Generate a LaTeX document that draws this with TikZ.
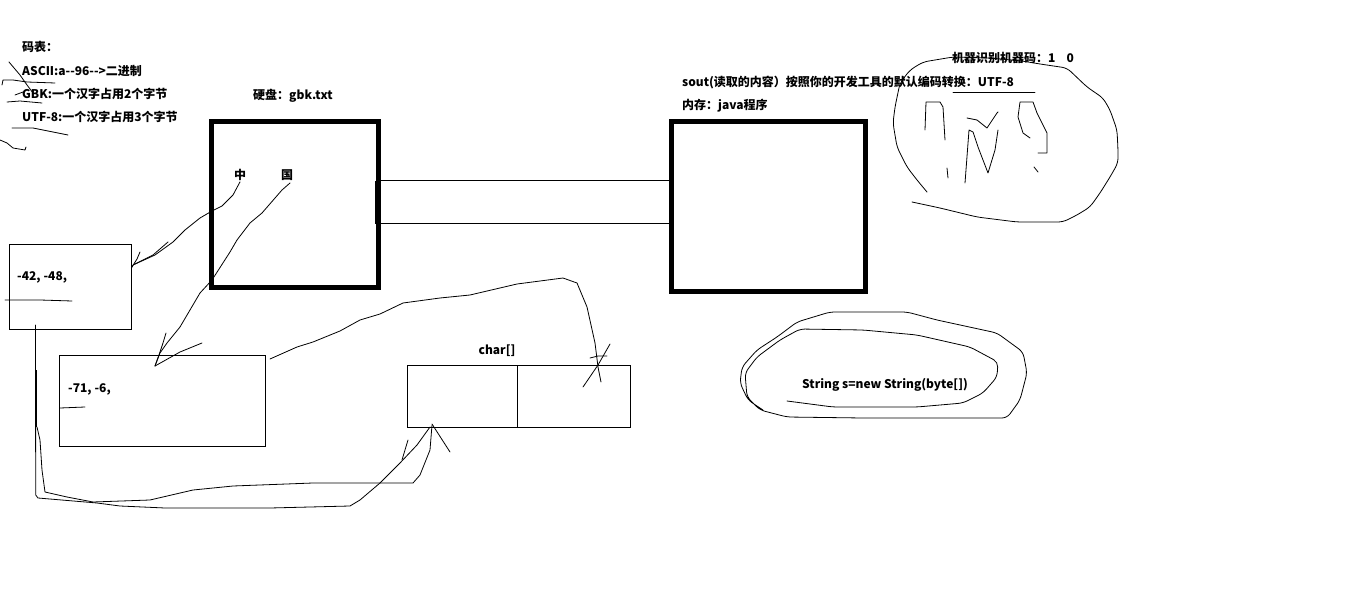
\documentclass[tikz,border=0pt]{standalone}
\usepackage{fontspec}
\setmainfont{Noto Sans CJK SC}
\begin{document}
\begin{tikzpicture}[x=1pt,y=-1pt,
  lbl/.style={font=\fontsize{12}{14}\selectfont\bfseries, inner sep=0pt, anchor=west},
  clbl/.style={font=\fontsize{12}{14}\selectfont\bfseries, inner sep=0pt},
  thickbox/.style={draw, line width=5pt, inner sep=0pt},
  thinbox/.style={draw, line width=1pt, inner sep=0pt},
  hand/.style={line width=0.8pt, line join=round, line cap=round},
  loop/.style={hand, rounded corners=5pt}]
\useasboundingbox[fill=white] (0,0) rectangle (1360,604);

% ---- legend text
\node[lbl] (t1) at (22,47) {码表：};
\node[lbl] (t2) at (22,71) {ASCII:a-{}-96-{}->二进制};
\node[lbl] (t3) at (22,94) {GBK:一个汉字占用2个字节};
\node[lbl] (t4) at (22,117) {UTF-8:一个汉字占用3个字节};

% ---- legend scribbles
\draw[hand] (9,62) -- (20,75) -- (27,85) -- (33,93);
\draw[hand] (2,85) -- (3,80) -- (13,80) -- (27,82) -- (55,83);
\draw[hand] (15,95) -- (23,92);
\draw[hand] (7,102) -- (20,101) -- (42,103);
\draw[hand] (12,128) -- (33,128) -- (68,135);
\draw[hand] (0,140) -- (7,143) -- (13,148) -- (25,150) -- (26,147);

% ---- disk
\node[clbl] (disklbl) at (293,96) {硬盘：gbk.txt};
\node[thickbox, minimum width=167pt, minimum height=166pt] (disk) at (294.5,204.5) {};
\node[clbl] (zhong) at (240,175) {中};
\node[clbl] (guo) at (287,175) {国};
\fill (375,181) rectangle (380,224);

% ---- memory
\node[lbl] (sout) at (682,83) {sout(读取的内容）按照你的开发工具的默认编码转换：UTF-8};
\node[lbl] (neicun) at (682,106) {内存：java程序};
\node[thickbox, minimum width=194pt, minimum height=169pt] (mem) at (768,206.5) {};
\coordinate (p1) at (380,181);
\coordinate (p2) at (380,224);
\draw[line width=1pt] (p1) -- (p1 -| mem.west);
\draw[line width=1pt] (p2) -- (p2 -| mem.west);
\draw[hand] (953,92) -- (1035,92);

% ---- machine code circle
\node[lbl] (jiqi) at (952,58) {机器识别机器码：1\hspace{11pt}0};
\draw[loop] (927,192) -- (917,180) -- (907,167) -- (897,147) -- (893,123) -- (895,107)
  -- (900,83) -- (910,70) -- (923,62) -- (953,57) -- (990,58) -- (1022,61) -- (1040,64)
  -- (1067,68) -- (1087,87) -- (1103,98) -- (1110,110) -- (1117,130) -- (1118,150)
  -- (1118,163) -- (1110,177) -- (1100,193) -- (1090,207) -- (1077,215) -- (1063,222)
  -- (1017,222) -- (977,217) -- (940,208) -- (912,202);
\draw[hand] (925,130) -- (926,102) -- (940,102) -- (943,107) -- (945,140);
\draw[hand] (947,168) -- (948,178);
\draw[hand] (967,118) -- (977,120) -- (987,128) -- (997,113) -- (998,112);
\draw[hand] (965,183) -- (969,130) -- (973,132) -- (978,147) -- (988,173) -- (995,150) -- (998,130);
\draw[hand] (1030,138) -- (1023,133) -- (1018,117) -- (1020,102) -- (1033,102) -- (1037,113)
  -- (1047,133) -- (1047,153) -- (1038,153);
\draw[hand] (1034,167) -- (1038,172);

% ---- byte boxes
\node[thinbox, minimum width=122pt, minimum height=84pt] (b1) at (70,287) {};
\node[lbl] (b1t) at (17,277) {-42,\hspace{3pt}-48,};
\draw[hand] (5,300) -- (40,300) -- (72,301);
\node[thinbox, minimum width=206pt, minimum height=91pt] (b2) at (162,400.5) {};
\node[lbl] (b2t) at (68,389) {-71,\hspace{3pt}-6,};
\draw[hand] (60,408) -- (85,407);

% ---- char[]
\node[clbl] (charlbl) at (497,351) {char[]};
\node[thinbox, minimum width=110pt, minimum height=62pt] (c1) at (462,396) {};
\node[thinbox, minimum width=113pt, minimum height=62pt] (c2) at (573.5,396) {};

% ---- String s
\node[clbl] (str) at (885,385) {String s=new String(byte[])};
\draw[loop] (787,401) -- (833,407) -- (917,407) -- (963,403) -- (983,393) -- (997,377)
  -- (998,362) -- (970,347) -- (917,335) -- (863,330) -- (800,329) -- (780,340)
  -- (757,357) -- (745,373) -- (747,397) -- (760,410) -- (787,417) -- (863,418)
  -- (1007,418) -- (1020,400) -- (1027,373) -- (1023,352) -- (997,333) -- (937,320)
  -- (907,312) -- (830,312) -- (797,322) -- (777,337) -- (757,350) -- (742,367)
  -- (740,383) -- (748,400) -- (763,410);

% ---- connector 中 -> b1
\draw[hand] (zhong.south) ++(0,1) -- (233,195) -- (222,206) -- (212,211) -- (200,218)
  -- (185,230) -- (173,242) -- (155,255) -- (133,265) -- (b1.east |- 0,268);
\draw[hand] (140,252) -- (137,259) -- (132,267);
\draw[hand] (168,242) -- (153,255) -- (135,264);

% ---- connector 国 -> b2
\draw[hand] (290,183) -- (282,190) -- (262,213) -- (250,223) -- (237,240) -- (230,252)
  -- (212,280) -- (200,293) -- (190,310) -- (180,327) -- (167,343) -- (160,353) -- (155,366);
\draw[hand] (166,333) -- (163,343) -- (160,352) -- (155,366);
\draw[hand] (202,343) -- (180,352) -- (155,366);

% ---- connector b2 -> c2
\draw[hand] (270,359) -- (297,347) -- (313,342) -- (340,331) -- (360,320) -- (380,314)
  -- (403,303) -- (440,298) -- (470,295) -- (517,284) -- (563,278) -- (577,283)
  -- (587,307) -- (595,343) -- (598,367) -- (601,382);
\draw[hand] (610,344) -- (598,365) -- (583,387);
\draw[hand] (590,358) -- (598,356) -- (607,356);

% ---- connector b1 -> c1
\draw[hand] (35.5,325) -- (35.7,495) -- (38,498) -- (97,503) -- (120,506) -- (165,508)
  -- (270,508) -- (350,506) -- (360,500) -- (380,483) -- (400,463) -- (417,445) -- (430,427);
\draw[line width=2pt] (36,370) -- (36,427);
\draw[hand] (37,427) -- (40,440) -- (42,470) -- (45,492) -- (67,497) -- (93,502)
  -- (150,500) -- (193,490) -- (233,486) -- (313,483) -- (413,483) -- (420,475)
  -- (430,450) -- (432,425);
\draw[hand] (432,424) -- (450,452);
\draw[hand] (408,440) -- (402,460);
\end{tikzpicture}
\end{document}
